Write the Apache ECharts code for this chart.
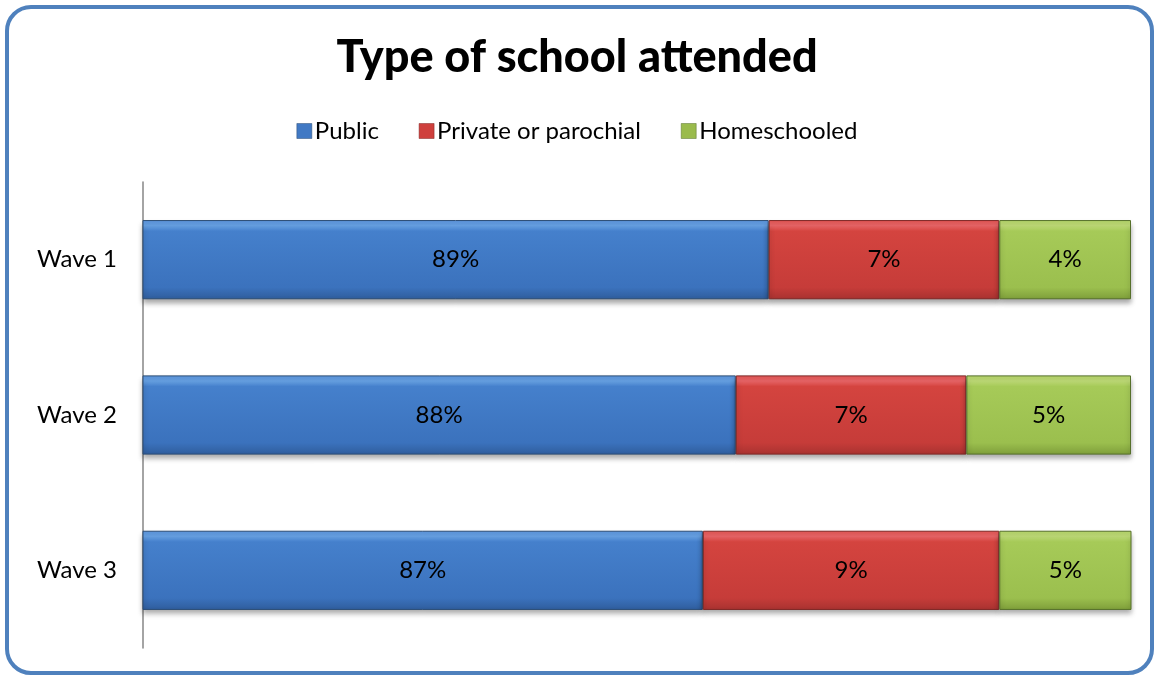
<!DOCTYPE html>
<html>
<head>
<meta charset="utf-8">
<title>Type of school attended</title>
<script src="https://cdn.jsdelivr.net/npm/echarts@6/dist/echarts.min.js"></script>
<style>
  html, body { margin: 0; padding: 0; background: #ffffff; }
  #chart { width: 1154px; height: 675px; }
</style>
</head>
<body>
<div id="chart"></div>
<script>
// Survey waves and share of students by school type (percent)
const waves = ['Wave 1', 'Wave 2', 'Wave 3'];
const seriesNames = ['Public', 'Private or parochial', 'Homeschooled'];
const publicShare = [89, 88, 87];
const privateShare = [7, 7, 9];
const homeShare = [4, 5, 5];

const FONT = 'Lato, "Open Sans", sans-serif';

// Bevelled bar fill: bright top edge, body, darker base
function bevel(top, hi, body, low, bottom) {
  return new echarts.graphic.LinearGradient(0, 0, 0, 1, [
    { offset: 0, color: top },
    { offset: 0.07, color: hi },
    { offset: 0.14, color: body },
    { offset: 0.85, color: low },
    { offset: 1, color: bottom }
  ]);
}

const styles = [
  { fill: bevel('#5b94dc', '#6aa6ea', '#4580cc', '#3b72bd', '#2f5d9c'), border: '#2c4d75', legend: '#4179c4' },
  { fill: bevel('#e25553', '#f0686a', '#d4443f', '#c63c39', '#a83230'), border: '#7e2725', legend: '#cf403d' },
  { fill: bevel('#b4d468', '#c3e07a', '#a6ca58', '#9bbf4e', '#7e9e3a'), border: '#56702a', legend: '#9abb4c' }
];

const values = [publicShare, privateShare, homeShare];

const chart = echarts.init(document.getElementById('chart'), null, { renderer: 'canvas' });

chart.setOption({
  backgroundColor: '#ffffff',
  animation: false,
  title: {
    text: 'Type of school attended',
    left: 'center',
    top: 30,
    textStyle: { fontFamily: FONT, fontSize: 45, fontWeight: 900, color: '#000000' }
  },
  legend: {
    top: 114,
    left: 'center',
    icon: 'rect',
    itemWidth: 15,
    itemHeight: 15,
    itemGap: 40,
    textStyle: { fontFamily: FONT, fontSize: 24, color: '#000000', padding: [0, 0, 0, -2] },
    data: seriesNames.map((n, i) => ({
      name: n,
      itemStyle: { color: styles[i].legend, borderColor: styles[i].border, borderWidth: 0.5 }
    }))
  },
  grid: { left: 143, right: 23, top: 182, bottom: 27, containLabel: false },
  xAxis: {
    type: 'value',
    min: 70,
    max: 100,
    show: false
  },
  yAxis: {
    type: 'category',
    inverse: true,
    data: waves,
    axisLine: { show: true, lineStyle: { color: '#868686', width: 1.5 } },
    axisTick: { show: false },
    axisLabel: { fontFamily: FONT, fontSize: 24, color: '#000000', margin: 26 },
    splitLine: { show: false }
  },
  graphic: [{
    type: 'rect',
    z: 100,
    silent: true,
    shape: { x: 7, y: 7, width: 1145, height: 666, r: 24 },
    style: { fill: 'none', stroke: '#4f81bd', lineWidth: 4 }
  }],
  series: seriesNames.map((name, i) => ({
    name: name,
    type: 'bar',
    stack: 'share',
    startValue: 70,
    clip: true,
    barWidth: '51%',
    data: values[i],
    itemStyle: {
      color: styles[i].fill,
      borderColor: styles[i].border,
      borderWidth: 1,
      shadowColor: 'rgba(0,0,0,0.35)',
      shadowBlur: 5,
      shadowOffsetY: 4
    },
    label: {
      show: true,
      position: 'inside',
      formatter: '{c}%',
      fontFamily: FONT,
      fontSize: 24,
      color: '#000000'
    }
  }))
});
</script>
</body>
</html>
